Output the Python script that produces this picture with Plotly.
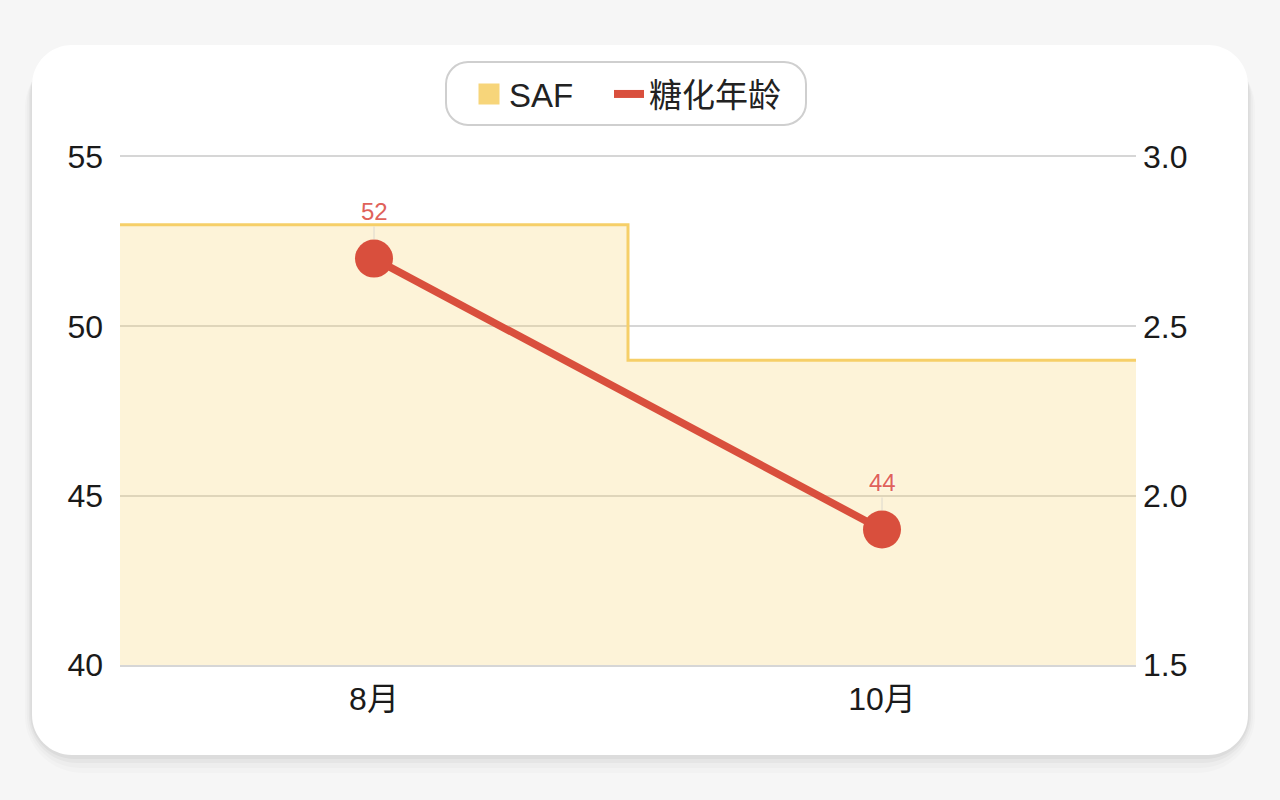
import plotly.graph_objects as go

# data
months = ["8月", "10月"]
saf_values = [2.8, 2.4]
glyc_age = [52, 44]
left_ticks = [40, 45, 50, 55]
right_ticks = [1.5, 2.0, 2.5, 3.0]

W, H = 1280, 800
L, R, T, B = 120, 144, 157, 135
PW, PH = W - L - R, H - T - B

FONT = "Liberation Sans, Arial, Noto Sans CJK SC, sans-serif"
RED = "#D94F3D"
YEL = "#F6CF68"
GRID = "#d6d6d6"


def px(x):
    return (x - L) / PW


def py(y):
    return (H - B - y) / PH


def rounded_rect(x0, y0, x1, y1, r):
    # svg path in paper coords, corners given in page pixels
    k = 0.5523 * r
    pts = [
        ("M", [(x0 + r, y0)]),
        ("L", [(x1 - r, y0)]),
        ("C", [(x1 - r + k, y0), (x1, y0 + r - k), (x1, y0 + r)]),
        ("L", [(x1, y1 - r)]),
        ("C", [(x1, y1 - r + k), (x1 - r + k, y1), (x1 - r, y1)]),
        ("L", [(x0 + r, y1)]),
        ("C", [(x0 + r - k, y1), (x0, y1 - r + k), (x0, y1 - r)]),
        ("L", [(x0, y0 + r)]),
        ("C", [(x0, y0 + r - k), (x0 + r - k, y0), (x0 + r, y0)]),
    ]
    s = ""
    for cmd, ps in pts:
        s += cmd + " ".join(f"{px(a):.5f},{py(b):.5f}" for a, b in ps) + " "
    return s + "Z"


idx = list(range(len(months)))

# step outline for the SAF area
step_x, step_y = [], []
for i, v in zip(idx, saf_values):
    step_x += [i - 0.5, i + 0.5]
    step_y += [v, v]

fig = go.Figure()

fig.add_trace(go.Bar(
    x=idx, y=saf_values, width=1,
    marker=dict(color="rgba(247,211,110,0.27)", line=dict(width=0)),
    yaxis="y", showlegend=False, hoverinfo="skip",
))
fig.add_trace(go.Scatter(
    x=step_x, y=step_y, mode="lines",
    line=dict(color=YEL, width=3),
    yaxis="y", showlegend=False, hoverinfo="skip",
))
fig.add_trace(go.Scatter(
    x=idx, y=glyc_age, mode="lines+markers",
    line=dict(color=RED, width=7.5),
    marker=dict(size=38, color=RED),
    yaxis="y2", showlegend=False,
))

# legend-only entries, one legend each so they can be spaced like the original
fig.add_trace(go.Scatter(
    x=[None], y=[None], mode="markers", name="SAF", legend="legend",
    marker=dict(symbol="square", size=16, color="#F7D57A",
                line=dict(color="#F7D57A", width=5)),
))
fig.add_trace(go.Scatter(
    x=[None], y=[None], mode="lines", name="糖化年龄", legend="legend2",
    line=dict(color=RED, width=8),
))

# value labels
for i, v in zip(idx, glyc_age):
    fig.add_annotation(
        x=i, y=v, xref="x", yref="y2", text=str(v),
        showarrow=True, arrowhead=0, arrowwidth=1, arrowcolor="rgba(200,200,200,0.6)",
        ax=0, ay=-47, standoff=19,
        font=dict(size=24, color="#E0625A", family=FONT, shadow="0px 0px 3px white"),
    )

shapes = []
# card shadow
for g, a in [(18, 0.014), (13, 0.02), (8, 0.03), (4, 0.04)]:
    shapes.append(dict(
        type="path", xref="paper", yref="paper", layer="below",
        path=rounded_rect(32 - g * 0.4, 45 + 6, 1248 + g * 0.4, 755 + g, 40 + g),
        fillcolor=f"rgba(0,0,0,{a})", line=dict(width=0),
    ))
shapes.append(dict(
    type="path", xref="paper", yref="paper", layer="below",
    path=rounded_rect(32, 45, 1248, 755, 40),
    fillcolor="white", line=dict(width=0),
))
# legend pill
shapes.append(dict(
    type="path", xref="paper", yref="paper", layer="below",
    path=rounded_rect(446, 62, 806, 125, 22),
    fillcolor="white", line=dict(color="#cfcfcf", width=2),
))

legend_common = dict(
    orientation="h", yanchor="middle", y=py(94), xanchor="left",
    bgcolor="rgba(0,0,0,0)", font=dict(size=33, color="#222"),
    itemsizing="trace",
)

fig.update_layout(
    width=W, height=H,
    margin=dict(l=L, r=R, t=T, b=B),
    paper_bgcolor="#f6f6f6",
    plot_bgcolor="rgba(0,0,0,0)",
    font=dict(family=FONT, size=32, color="#1a1a1a"),
    shapes=shapes,
    bargap=0,
    showlegend=True,
    legend=dict(x=px(469), **legend_common),
    legend2=dict(x=px(609), **legend_common),
    xaxis=dict(
        range=[-0.5, 1.5], tickvals=idx, ticktext=months,
        showgrid=False, zeroline=False,
        showline=True, mirror=True, linecolor=GRID, linewidth=1.5,
        ticks="", ticklabelstandoff=5,
    ),
    yaxis=dict(
        side="right", range=[1.5, 3.0], tickvals=right_ticks,
        tickformat=".1f", showgrid=True, gridcolor=GRID, gridwidth=1.5,
        zeroline=False, showline=False, ticks="", ticklabelstandoff=6,
    ),
    yaxis2=dict(
        side="left", overlaying="y", range=[40, 55], tickvals=left_ticks,
        showgrid=False, zeroline=False, showline=False,
        ticks="", ticklabelstandoff=16,
    ),
)

fig.write_html("out.html", config={"displayModeBar": False},
               post_script="document.body.style.margin='0';")
